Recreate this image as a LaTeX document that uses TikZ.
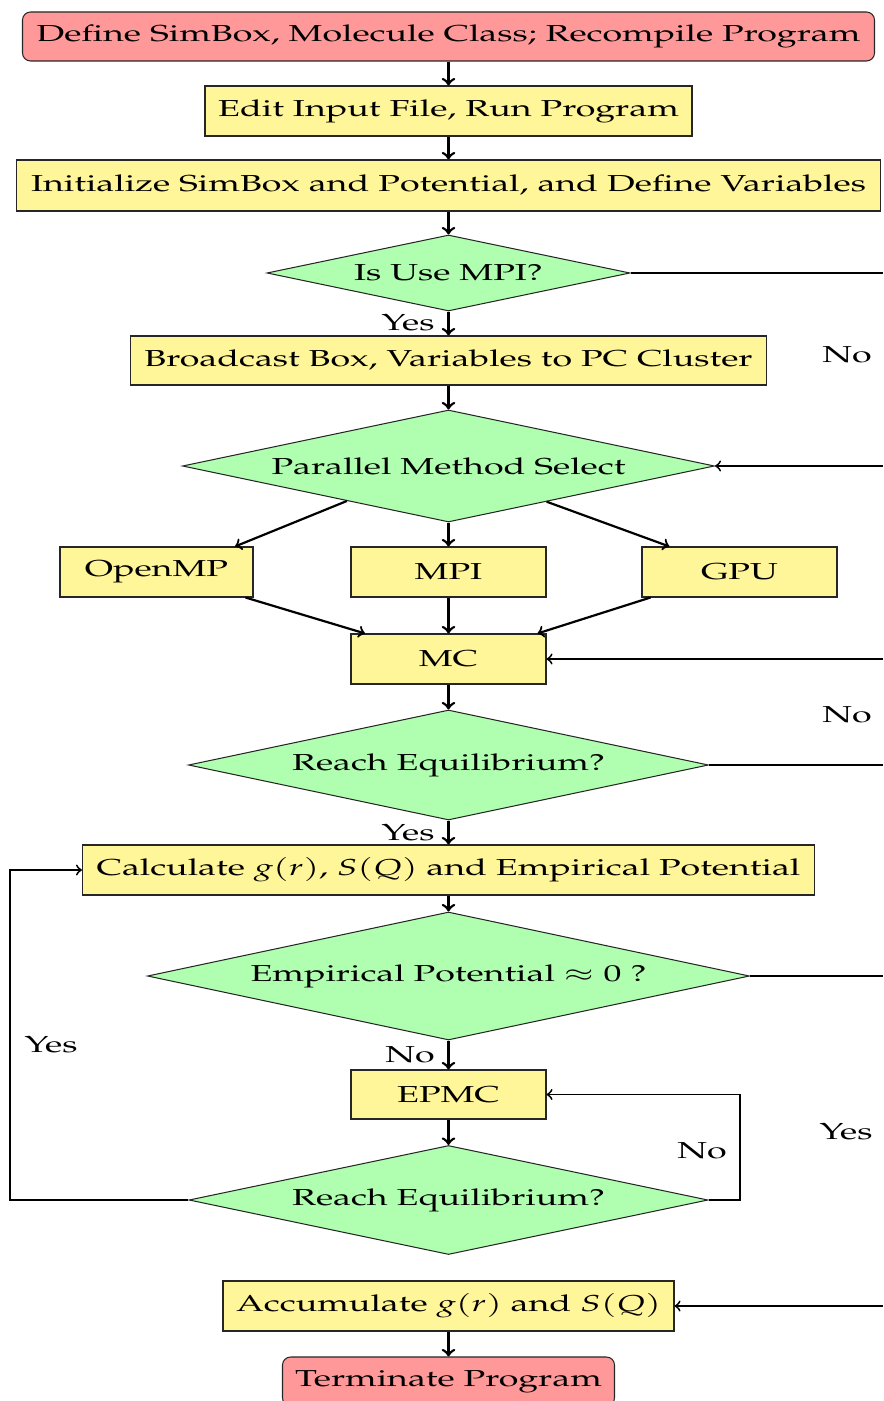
\documentclass[tikz,border=0pt]{standalone}
\usepackage[T1]{fontenc}
\usepackage{mathpazo}
\usepackage{graphicx}
\usetikzlibrary{shapes.geometric}
\definecolor{boxred}{RGB}{255,153,153}
\definecolor{boxyel}{RGB}{255,245,153}
\definecolor{boxgrn}{RGB}{176,255,176}
\newcommand{\wt}[1]{\scalebox{1.55}[1]{#1}}
\begin{document}
\begin{tikzpicture}[x=0.433pt,y=-0.433pt,
  proc/.style 2 args={draw=black!85, line width=0.45pt, fill=boxyel, rectangle, inner sep=0pt,
    minimum width=#1*0.433pt, minimum height=#2*0.433pt},
  term/.style 2 args={proc={#1}{#2}, fill=boxred, rounded corners=3.5pt},
  dec/.style 2 args={draw=black!85, line width=0.45pt, fill=boxgrn, diamond, aspect=4.7, inner sep=0pt,
    minimum width=#1*0.433pt, minimum height=#2*0.433pt},
  arr/.style={->, line width=0.8pt},
  varr/.style={->, line width=1.15pt},
  darr/.style={->, line width=0.95pt},
  ln/.style={line width=0.75pt},
  lbl/.style={inner sep=0pt}]
\clip (0,0) rectangle (883,1401);
\node[term={852}{49}] (def) at (448.5,36.5) {\wt{Define SimBox, Molecule Class; Recompile Program}};
\node[proc={487}{50}] (edit) at (448.5,111) {\wt{Edit Input File, Run Program}};
\node[proc={864}{51}] (init) at (448.5,185.5) {\wt{Initialize SimBox and Potential, and Define Variables}};
\node[dec={363}{76}] (mpiq) at (448.5,273) {\wt{Is Use MPI?}};
\node[proc={636}{49}] (bcast) at (448.5,360.5) {\wt{Broadcast Box, Variables to PC Cluster}};
\node[dec={532}{112}] (para) at (448.5,466) {\wt{Parallel Method Select}};
\node[proc={193}{50}] (omp) at (156.5,572) {\wt{OpenMP}};
\node[proc={195}{50}] (mpi) at (448.5,572) {\wt{MPI}};
\node[proc={195}{50}] (gpu) at (739.5,572) {\wt{GPU}};
\node[proc={195}{50}] (mc) at (448.5,659) {\wt{MC}};
\node[dec={520}{110}] (eq1) at (448.5,765) {\wt{Reach Equilibrium?}};
\node[proc={732}{50}] (calc) at (448.5,870) {\wt{Calculate $g(r)$, $S(Q)$ and Empirical Potential}};
\node[dec={602}{128}] (emp) at (448.5,976) {\wt{Empirical Potential $\approx 0$ ?}};
\node[proc={195}{49}] (epmc) at (448.5,1094.5) {\wt{EPMC}};
\node[dec={519}{109}] (eq2) at (448.5,1200) {\wt{Reach Equilibrium?}};
\node[proc={451}{50}] (acc) at (448.5,1306) {\wt{Accumulate $g(r)$ and $S(Q)$}};
\node[term={332}{49}] (term) at (448.5,1381.5) {\wt{Terminate Program}};
% main column
\draw[varr] (def.south) -- (edit.north);
\draw[varr] (edit.south) -- (init.north);
\draw[varr] (init.south) -- (mpiq.north);
\draw[varr] (mpiq.south) -- (bcast.north);
\draw[varr] (bcast.south) -- (para.north);
\draw[darr] (para.199.65) -- (omp.18.3);
\draw[varr] (para.south) -- (mpi.north);
\draw[darr] (para.340.2) -- (gpu.160.2);
\draw[darr] (omp.-16.5) -- (mc.163);
\draw[varr] (mpi.south) -- (mc.north);
\draw[darr] (gpu.196.5) -- (mc.16.7);
\draw[varr] (mc.south) -- (eq1.north);
\draw[varr] (eq1.south) -- (calc.north);
\draw[varr] (calc.south) -- (emp.north);
\draw[varr] (emp.south) -- (epmc.north);
\draw[varr] (epmc.south) -- (eq2.north);
\draw[varr] (acc.south) -- (term.north);
% right edge connectors
\coordinate (r1) at (883,273);
\coordinate (r2) at (883,466);
\coordinate (r3) at (883,659);
\coordinate (r4) at (883,765);
\coordinate (r5) at (883,976);
\coordinate (r6) at (883,1306);
\draw[ln] (mpiq.east) -- (r1);
\draw[arr] (r2) -- (para.east);
\draw[arr] (r3) -- (mc.east);
\draw[ln] (eq1.east) -- (r4);
\draw[ln] (emp.east) -- (r5);
\draw[arr] (r6) -- (acc.east);
% loops
\coordinate (lp) at (10,1200);
\coordinate (np) at (740,1200);
\draw[arr] (eq2.west) -- (lp) |- (calc.west);
\draw[arr] (eq2.east) -- (np) |- (epmc.east);
% labels
\node[lbl] (y1) at (408,323) {\wt{Yes}};
\node[lbl] (n1) at (847,355) {\wt{No}};
\node[lbl] (n2) at (847,715) {\wt{No}};
\node[lbl] (y2) at (408,833) {\wt{Yes}};
\node[lbl] (y3) at (51,1045) {\wt{Yes}};
\node[lbl] (n3) at (410,1055) {\wt{No}};
\node[lbl] (n4) at (702,1151) {\wt{No}};
\node[lbl] (y4) at (846,1132) {\wt{Yes}};
\end{tikzpicture}
\end{document}
